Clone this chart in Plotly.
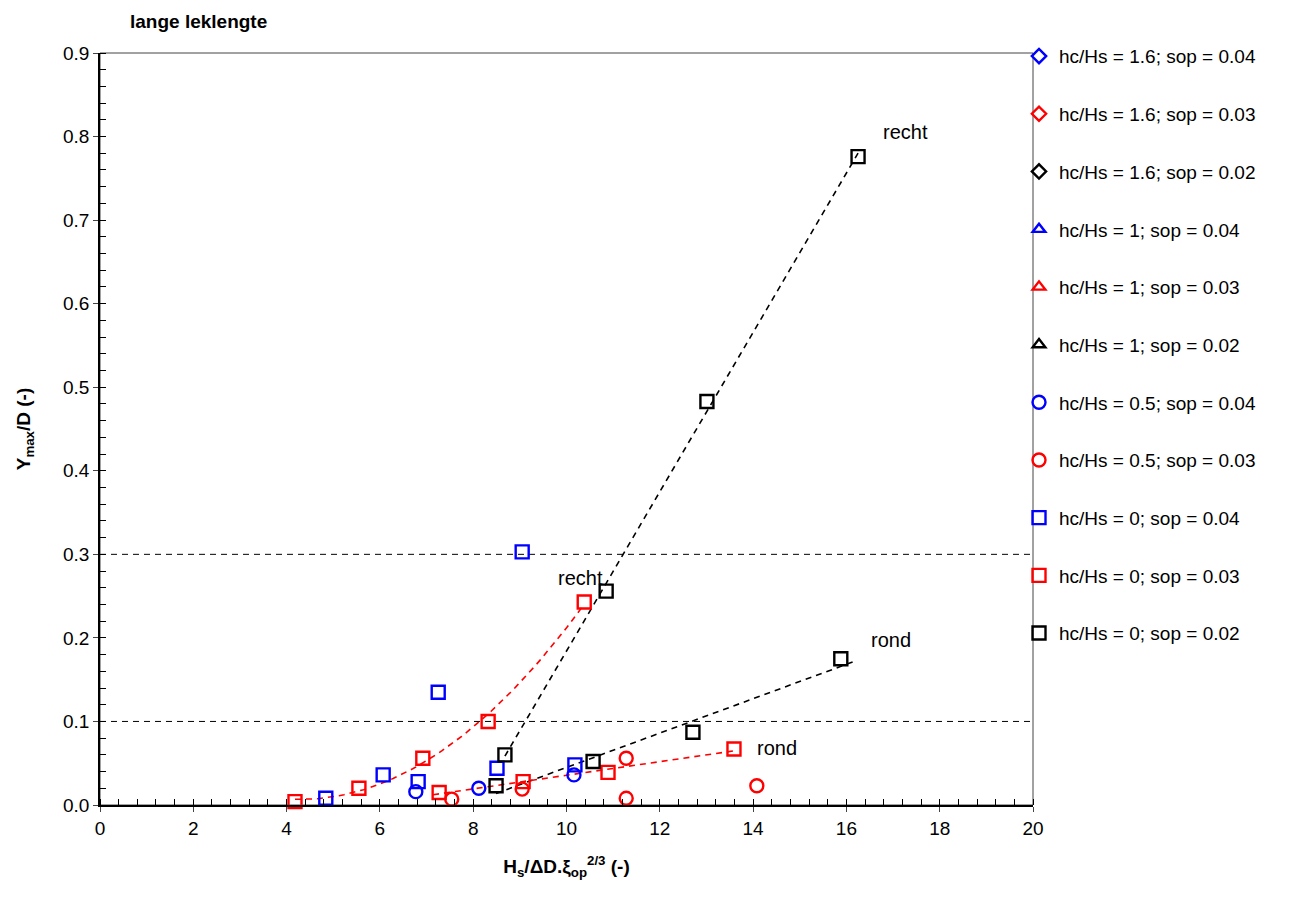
import numpy as np
import plotly.graph_objects as go

# ---- data ----
# hc/Hs = 0 ; sop = 0.02 (black squares)
bk_sq_recht_x = [8.68, 10.85, 13.01, 16.25]
bk_sq_recht_y = [0.060, 0.256, 0.483, 0.776]
bk_sq_rond_x = [8.49, 10.57, 12.71, 15.88]
bk_sq_rond_y = [0.023, 0.052, 0.087, 0.175]

# hc/Hs = 0 ; sop = 0.03 (red squares)
rd_sq_recht_x = [4.18, 5.55, 6.92, 8.32, 10.38]
rd_sq_recht_y = [0.004, 0.020, 0.056, 0.100, 0.243]
rd_sq_rond_x = [7.27, 9.07, 10.89, 13.59]
rd_sq_rond_y = [0.015, 0.028, 0.039, 0.067]

# hc/Hs = 0 ; sop = 0.04 (blue squares)
bl_sq_x = [4.84, 6.07, 6.82, 7.25, 8.51, 9.05, 10.18]
bl_sq_y = [0.008, 0.036, 0.028, 0.135, 0.044, 0.303, 0.048]

# hc/Hs = 0.5 ; sop = 0.04 (blue circles)
bl_ci_x = [6.77, 8.12, 10.16]
bl_ci_y = [0.016, 0.020, 0.036]

# hc/Hs = 0.5 ; sop = 0.03 (red circles)
rd_ci_x = [7.54, 9.05, 11.28, 11.28, 14.08]
rd_ci_y = [0.007, 0.019, 0.056, 0.008, 0.023]

# series without data (legend only)
empty_x = []
empty_y = []

legend_names = [
    "hc/Hs = 1.6; sop = 0.04", "hc/Hs = 1.6; sop = 0.03", "hc/Hs = 1.6; sop = 0.02",
    "hc/Hs = 1; sop = 0.04", "hc/Hs = 1; sop = 0.03", "hc/Hs = 1; sop = 0.02",
    "hc/Hs = 0.5; sop = 0.04", "hc/Hs = 0.5; sop = 0.03",
    "hc/Hs = 0; sop = 0.04", "hc/Hs = 0; sop = 0.03", "hc/Hs = 0; sop = 0.02",
]
thresholds = [0.1, 0.3]
x_ticks = list(range(0, 21, 2))

labels_text = ["recht", "recht", "rond", "rond"]
labels_x = [17.26, 10.29, 16.96, 14.51]
labels_y = [0.805, 0.272, 0.197, 0.068]

# ---- styles ----
BLUE, RED, BLACK = "#0000FF", "#FF0000", "#000000"
FONT = "Liberation Sans, Arial, sans-serif"

fig = go.Figure()

def pts(name, x, y, symbol, color, size=13):
    fig.add_trace(go.Scatter(
        x=x if len(x) else [None], y=y if len(y) else [None], mode="markers", name=name,
        legendgroup=name,
        marker=dict(symbol=symbol, size=size, color=color,
                    line=dict(color=color, width=2.4)),
        cliponaxis=False,
    ))

def trend(x, y, color, deg=1, forward=0.0, start=None):
    x = np.array(x); y = np.array(y)
    c = np.polyfit(x, y, deg)
    x0 = x.min() if start is None else start
    xs = np.linspace(x0, x.max() + forward, 60)
    fig.add_trace(go.Scatter(x=xs, y=np.polyval(c, xs), mode="lines", showlegend=False,
                             hoverinfo="skip",
                             line=dict(color=color, width=1.6, dash="6px,5px")))

# trend lines (drawn first, below markers)
trend(bk_sq_recht_x, bk_sq_recht_y, BLACK, 1)
trend(bk_sq_rond_x, bk_sq_rond_y, BLACK, 1, forward=0.3)
trend(rd_sq_rond_x, rd_sq_rond_y, RED, 1, start=7.14)
trend(rd_sq_recht_x, rd_sq_recht_y, RED, 2)

pts(legend_names[0], empty_x, empty_y, "diamond-open", BLUE, 11)
pts(legend_names[1], empty_x, empty_y, "diamond-open", RED, 11)
pts(legend_names[2], empty_x, empty_y, "diamond-open", BLACK, 11)
pts(legend_names[3], empty_x, empty_y, "triangle-up-open", BLUE, 11)
pts(legend_names[4], empty_x, empty_y, "triangle-up-open", RED, 11)
pts(legend_names[5], empty_x, empty_y, "triangle-up-open", BLACK, 11)
pts(legend_names[6], bl_ci_x, bl_ci_y, "circle-open", BLUE)
pts(legend_names[7], rd_ci_x, rd_ci_y, "circle-open", RED)
pts(legend_names[8], bl_sq_x, bl_sq_y, "square-open", BLUE)
pts(legend_names[9], rd_sq_recht_x + rd_sq_rond_x, rd_sq_recht_y + rd_sq_rond_y, "square-open", RED)
pts(legend_names[10], bk_sq_recht_x + bk_sq_rond_x, bk_sq_recht_y + bk_sq_rond_y, "square-open", BLACK)

for t in thresholds:
    fig.add_shape(type="line", xref="paper", x0=0, x1=1, yref="y", y0=t, y1=t,
                  line=dict(color=BLACK, width=1, dash="6px,5px"), layer="below")

for txt, lx, ly in zip(labels_text, labels_x, labels_y):
    fig.add_annotation(x=lx, y=ly, text=txt, showarrow=False,
                       font=dict(family=FONT, size=20, color=BLACK))

# page body adds an 8px offset, so the figure is 8px smaller and margins shifted
fig.update_layout(
    width=1294, height=892,
    margin=dict(l=92, r=269, t=45, b=95, autoexpand=False),
    plot_bgcolor="white", paper_bgcolor="white",
    font=dict(family=FONT, size=19, color=BLACK),
    title=dict(text="<b>lange leklengte</b>", x=122/1294, xanchor="left",
               y=1 - 13/892, yanchor="middle", font=dict(family=FONT, size=19)),
    legend=dict(x=0.985, xanchor="left", y=1.021, yanchor="top", maxheight=1.0,
                tracegroupgap=30, font=dict(family=FONT, size=19),
                itemwidth=30, bgcolor="rgba(0,0,0,0)"),
    showlegend=True,
)
fig.update_xaxes(range=[0, 20], tickvals=x_ticks, ticks="outside", ticklen=5, tickwidth=1,
                 showline=True, linecolor=BLACK, linewidth=1.5, mirror=False, showgrid=False,
                 zeroline=False, automargin=False,
                 minor=dict(dtick=0.4, ticks="inside", ticklen=6, tickcolor=BLACK),
                 title=dict(text="<b>H<sub>s</sub>/ΔD.ξ<sub>op</sub><sup>2/3</sup> (-)</b>",
                            font=dict(family=FONT, size=19), standoff=22),
                 tickfont=dict(size=19))
fig.update_yaxes(range=[0, 0.9], dtick=0.1, tickformat=".1f", ticks="outside", ticklen=5,
                 showline=True, linecolor=BLACK, linewidth=1.5, showgrid=False, zeroline=False,
                 automargin=False,
                 minor=dict(dtick=0.02, ticks="inside", ticklen=6, tickcolor=BLACK),
                 title=dict(text="<b>Y<sub>max</sub>/D (-)</b>", font=dict(family=FONT, size=19),
                            standoff=27),
                 tickfont=dict(size=19))
# top & right frame
fig.add_shape(type="rect", xref="paper", yref="paper", x0=0, y0=0, x1=1, y1=1,
              line=dict(color="#444444", width=1), layer="below")

fig.write_html("out.html")
